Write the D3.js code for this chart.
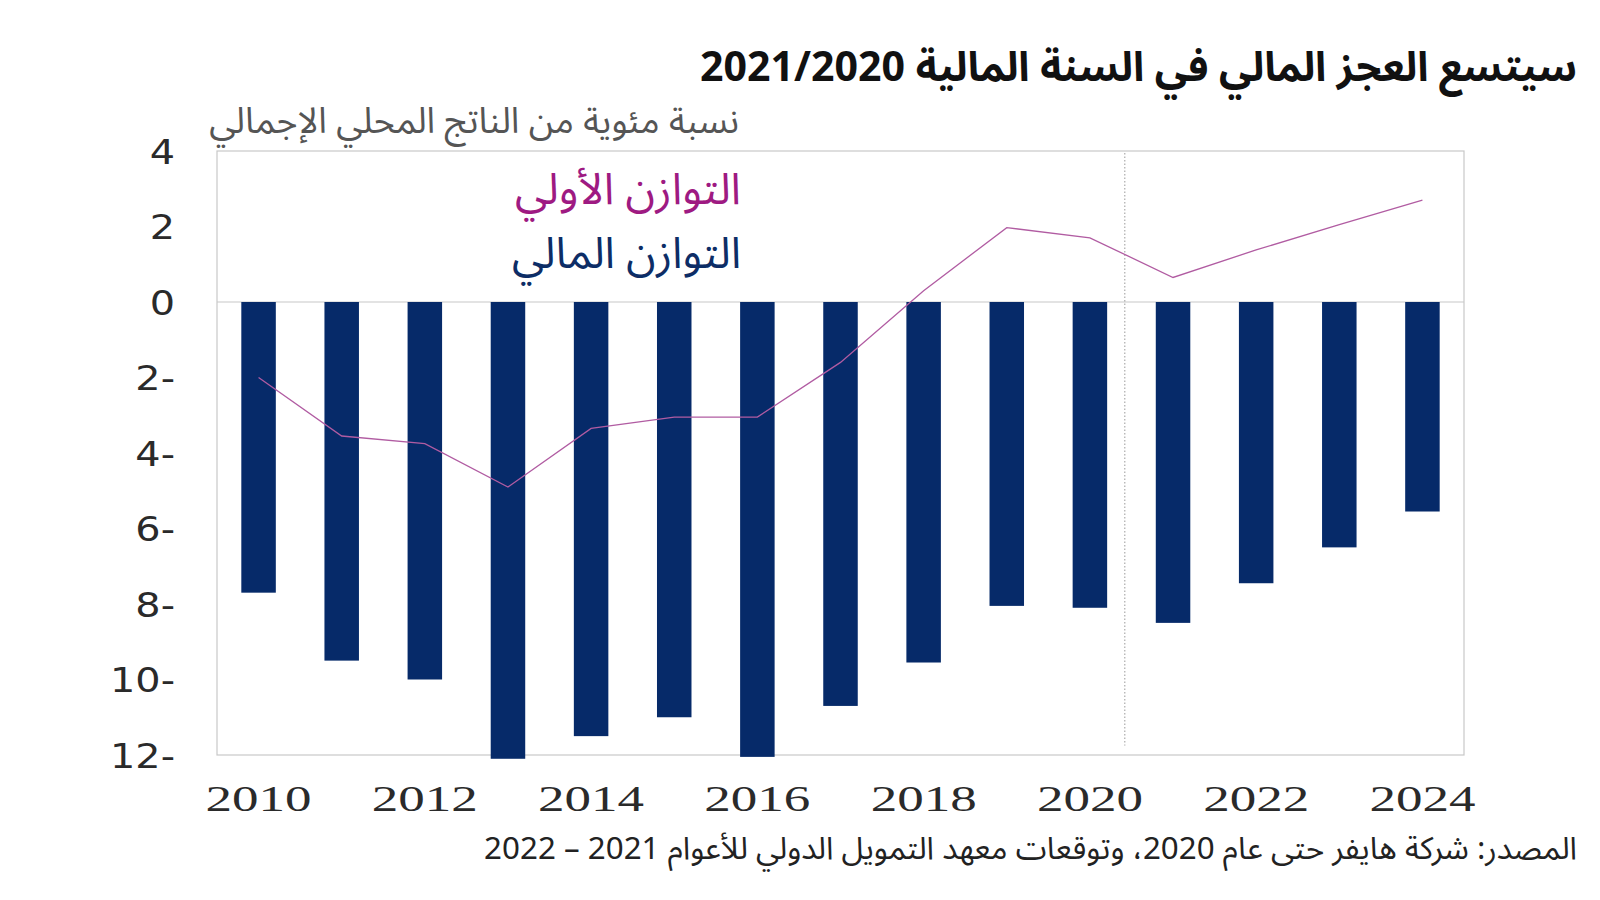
<!DOCTYPE html>
<html>
<head>
<meta charset="utf-8">
<script src="https://cdn.jsdelivr.net/npm/d3@7/dist/d3.min.js"></script>
<style>
  html, body { margin: 0; padding: 0; background: #ffffff; }
  svg { display: block; }
</style>
</head>
<body>
<svg id="chart" width="1600" height="900"></svg>
<script>
// ---- data ----
const years = [2010, 2011, 2012, 2013, 2014, 2015, 2016, 2017, 2018, 2019, 2020, 2021, 2022, 2023, 2024];
const fiscalBalance = [-7.7, -9.5, -10.0, -12.1, -11.5, -11.0, -12.05, -10.7, -9.55, -8.05, -8.1, -8.5, -7.45, -6.5, -5.55];
const primaryBalance = [-2.0, -3.55, -3.75, -4.9, -3.35, -3.05, -3.05, -1.6, 0.3, 1.97, 1.7, 0.65, 1.38, 2.05, 2.7];
const yTicks = [4, 2, 0, -2, -4, -6, -8, -10, -12];
const xTickYears = [2010, 2012, 2014, 2016, 2018, 2020, 2022, 2024];
const titleText = "سيتسع العجز المالي في السنة المالية 2021/2020";
const subtitleText = "نسبة مئوية من الناتج المحلي الإجمالي";
const legendPrimary = "التوازن الأولي";
const legendFiscal = "التوازن المالي";
const sourceText = "المصدر: شركة هايفر حتى عام 2020، وتوقعات معهد التمويل الدولي للأعوام 2021 – 2022";

// ---- layout ----
const svg = d3.select("#chart");
const plot = { left: 217, right: 1464, top: 151, bottom: 755 };
const arabicFont = "'Noto Sans Arabic', 'DejaVu Sans', sans-serif";

const x = d3.scaleBand().domain(years).range([plot.left, plot.right]).paddingInner(0.585).paddingOuter(0.2925);
const y = d3.scaleLinear().domain([-12, 4]).range([plot.bottom, plot.top]);
const cx = d => x(d) + x.bandwidth() / 2;

function fitWidth(sel, target) {
  const node = sel.node();
  const w = node.getComputedTextLength();
  if (w > 0) {
    const fs = parseFloat(sel.attr("font-size"));
    sel.attr("font-size", (fs * target / w).toFixed(2));
  }
  return sel;
}
function stretch(sel, target) {
  sel.each(function () {
    const w = this.getComputedTextLength();
    const t = typeof target === "function" ? target(w) : target;
    d3.select(this).attr("textLength", t).attr("lengthAdjust", "spacingAndGlyphs");
  });
}
function rtlText(xp, yp, txt, size, color, weight) {
  return svg.append("text")
    .attr("x", xp).attr("y", yp)
    .attr("direction", "rtl").attr("text-anchor", "start")
    .attr("font-family", arabicFont).attr("font-weight", weight || "normal")
    .attr("font-size", size).attr("fill", color)
    .text(txt);
}

// plot frame
svg.append("rect")
  .attr("x", plot.left).attr("y", plot.top)
  .attr("width", plot.right - plot.left).attr("height", plot.bottom - plot.top)
  .attr("fill", "none").attr("stroke", "#c8c8c8").attr("stroke-width", 1.2);

// zero line
svg.append("line")
  .attr("x1", plot.left).attr("x2", plot.right)
  .attr("y1", y(0)).attr("y2", y(0))
  .attr("stroke", "#c8c8c8").attr("stroke-width", 1.2);

// dotted divider between actuals and forecasts
const dividerX = cx(2020) + x.step() * 0.42;
svg.append("line")
  .attr("x1", dividerX).attr("x2", dividerX)
  .attr("y1", plot.top + 2).attr("y2", y(-11.75))
  .attr("stroke", "#9a9a9a").attr("stroke-width", 1).attr("stroke-dasharray", "1.5,2");

// bars
svg.append("g").selectAll("rect")
  .data(years.map((yr, i) => ({ yr, v: fiscalBalance[i] })))
  .join("rect")
  .attr("x", d => x(d.yr))
  .attr("width", x.bandwidth())
  .attr("y", d => y(Math.max(0, d.v)))
  .attr("height", d => Math.abs(y(d.v) - y(0)))
  .attr("fill", "#062a69");

// primary balance line
const line = d3.line().x(d => cx(d.yr)).y(d => y(d.v));
svg.append("path")
  .datum(years.map((yr, i) => ({ yr, v: primaryBalance[i] })))
  .attr("d", line)
  .attr("fill", "none")
  .attr("stroke", "#b15ca2")
  .attr("stroke-width", 1.3);

// y axis labels
const yAxis = d3.axisLeft(y).tickValues(yTicks).tickSize(0).tickPadding(0)
  .tickFormat(d => d < 0 ? Math.abs(d) + "-" : String(d));
const yg = svg.append("g").attr("transform", "translate(175,0)").call(yAxis);
yg.select(".domain").remove();
yg.selectAll("text")
  .attr("font-family", "'DejaVu Sans', sans-serif")
  .attr("font-size", 34)
  .attr("fill", "#2a2a2a")
  .attr("dy", "0.36em")
  .attr("direction", "ltr");
stretch(yg.selectAll("text"), w => w * 1.17);

// x axis labels
const xAxis = d3.axisBottom(x).tickValues(xTickYears).tickSize(0).tickPadding(0);
const xg = svg.append("g").attr("transform", "translate(0,811)").call(xAxis);
xg.select(".domain").remove();
xg.selectAll("text")
  .attr("font-family", "'Liberation Serif', serif")
  .attr("font-size", 36)
  .attr("fill", "#2a2a2a")
  .attr("dy", 0);
stretch(xg.selectAll("text"), 106);

// title
fitWidth(rtlText(1577, 81, titleText, 40, "#111111", "bold"), 877);
// subtitle
fitWidth(rtlText(739, 133, subtitleText, 28, "#555555"), 530);
// legend
fitWidth(rtlText(741, 204, legendPrimary, 34, "#9e1a82"), 226);
fitWidth(rtlText(741, 268, legendFiscal, 34, "#0d2d66"), 229);
// source
fitWidth(rtlText(1577, 859, sourceText, 26, "#222222"), 1093);
</script>
</body>
</html>
